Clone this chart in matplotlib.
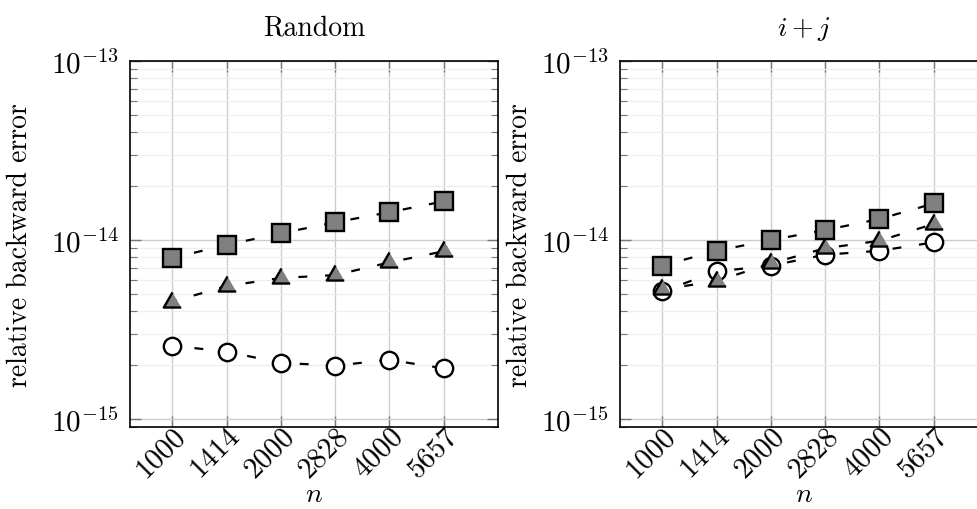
import matplotlib
matplotlib.use('Agg')
import matplotlib.pyplot as plt
from matplotlib.ticker import LogLocator, NullFormatter

plt.rcParams['font.family'] = 'serif'
plt.rcParams['font.serif'] = ['cmr10', 'DejaVu Serif']
plt.rcParams['mathtext.fontset'] = 'cm'
plt.rcParams['axes.unicode_minus'] = False

# data
n_labels = ['1000', '1414', '2000', '2828', '4000', '5657']
rand_square = [7.93e-15, 9.4e-15, 1.09e-14, 1.256e-14, 1.43e-14, 1.645e-14]
rand_triangle = [4.53e-15, 5.53e-15, 6.14e-15, 6.37e-15, 7.5e-15, 8.65e-15]
rand_circle = [2.57e-15, 2.38e-15, 2.06e-15, 1.99e-15, 2.14e-15, 1.92e-15]
ipj_square = [7.19e-15, 8.71e-15, 1.0e-14, 1.137e-14, 1.31e-14, 1.60e-14]
ipj_triangle = [5.3e-15, 5.9e-15, 7.4e-15, 9.0e-15, 9.9e-15, 1.23e-14]
ipj_circle = [5.16e-15, 6.68e-15, 7.19e-15, 8.28e-15, 8.71e-15, 9.7e-15]

tri = [(0, 1), (-0.866, -0.5), (0.866, -0.5)]
fs = 20

fig = plt.figure(figsize=(9.77, 5.10), dpi=100)
ax1 = fig.add_axes([130/977, 1-428.3/510, 368/977, 366.3/510])
ax2 = fig.add_axes([620/977, 1-428.3/510, 368/977, 366.3/510])


def draw(ax, sq, tr, ci, title, ylab_x):
    x = list(range(len(n_labels)))
    style = dict(color='black', lw=1.6, linestyle=(2, (4, 8)), mec='black', mew=1.7)
    ax.plot(x, sq, marker='s', ms=12.5, mfc='#808080', **style)
    ax.plot(x, ci, marker='o', ms=12.5, mfc='white', **style)
    ax.plot(x, tr, marker=tri, ms=14.5, mfc='#808080', **style)
    ax.set_yscale('log')
    ax.set_ylim(10**-15.046, 1e-13)
    ax.set_xlim(-0.78, 6.0)
    ax.set_xticks(x)
    ax.set_xticklabels(n_labels, rotation=45, ha='right', va='top',
                       rotation_mode='anchor', fontsize=21)
    ax.set_yticks([1e-15, 1e-14, 1e-13])
    ax.set_yticklabels([r'$10^{-15}$', r'$10^{-14}$', r'$10^{-13}$'], fontsize=fs + 1)
    ax.yaxis.set_minor_locator(LogLocator(base=10, subs=range(2, 10), numticks=20))
    ax.yaxis.set_minor_formatter(NullFormatter())
    ax.tick_params(which='major', direction='in', length=8, width=1, color='#777777',
                   top=True, right=True, pad=8)
    ax.tick_params(axis='x', which='major', pad=-4)
    ax.tick_params(which='minor', direction='in', length=5, width=0.8, color='#777777',
                   top=False, right=True)
    ax.grid(True, which='major', color='#cccccc', lw=1.0)
    ax.grid(True, which='minor', axis='y', color='#eeeeee', lw=0.9)
    ax.set_axisbelow(True)
    for s in ax.spines.values():
        s.set_linewidth(1.2)
    ax.set_title(title, fontsize=fs, pad=19)
    ax.set_xlabel(r'$n$', fontsize=fs)
    ax.xaxis.set_label_coords(0.5, -0.147)
    ax.set_ylabel('relative backward error', fontsize=fs)
    ax.yaxis.set_label_coords(ylab_x, 0.5)


draw(ax1, rand_square, rand_triangle, rand_circle, 'Random', -0.263)
draw(ax2, ipj_square, ipj_triangle, ipj_circle, r'$i+j$', -0.236)

fig.savefig('out.png', dpi=100)
